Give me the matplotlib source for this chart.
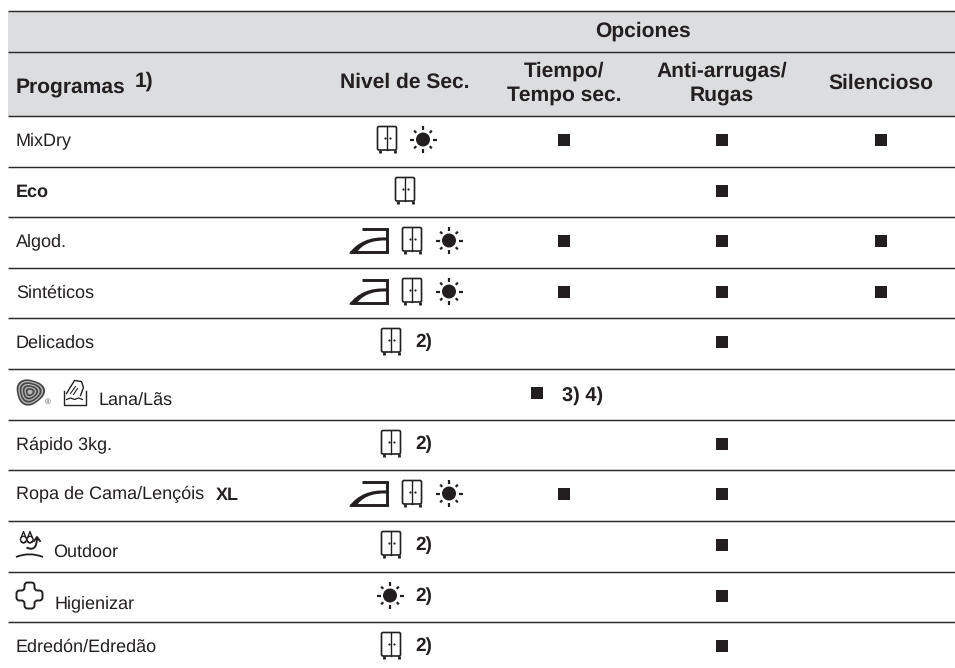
"""programas / opciones table, drawn in pixel coordinates"""
import numpy as np
import matplotlib
matplotlib.use('Agg')
import matplotlib.pyplot as plt
from matplotlib.patches import Rectangle, FancyBboxPatch, Circle, PathPatch, Polygon
from matplotlib.path import Path

plt.rcParams['font.family'] = ['Liberation Sans', 'DejaVu Sans']
plt.rcParams['text.hinting'] = 'no_hinting'
plt.rcParams['text.hinting_factor'] = 1

INK = '#231f20'
GREY = '#dcddde'
LINE = '#2b2b2b'

# table content
programas = ['MixDry', 'Eco', 'Algod.', 'Sintéticos', 'Delicados', 'Lana/Lãs',
             'Rápido 3kg.', 'Ropa de Cama/Lençóis', 'Outdoor', 'Higienizar',
             'Edredón/Edredão']
nivel = ['ws', 'w', 'iws', 'iws', 'w2', '', 'w2', 'iws', 'w2', 's2', 'w2']
tiempo = [1, 0, 1, 1, 0, 0, 0, 1, 0, 0, 0]
arrugas = [1, 1, 1, 1, 1, 0, 1, 1, 1, 1, 1]
silencio = [1, 0, 1, 1, 0, 0, 0, 0, 0, 0, 0]
header_opciones = [('Tiempo/', 'Tempo sec.'), ('Anti-arrugas/', 'Rugas'), ('Silencioso',)]

W, H = 955, 668
RULES = [11, 52, 116, 167, 217, 268, 318, 369, 420, 470, 521, 572, 622]
COL_X = [564, 722, 881]
HEAD = 15.2
BODY = 13.2

fig = plt.figure(figsize=(W / 100, H / 100), dpi=100)
ax = fig.add_axes([0, 0, 1, 1])
ax.set_xlim(0, W)
ax.set_ylim(H, 0)
ax.axis('off')


def wardrobe(x, y):
    ax.add_patch(FancyBboxPatch((x - 9.5, y - 13), 19, 23.5, boxstyle='round,pad=0,rounding_size=1.5',
                                fc='white', ec=INK, lw=1.2))
    ax.plot([x, x], [y - 13, y + 10.5], color=INK, lw=1.0)
    ax.plot([x - 2.5, x + 2.5], [y - 1.5, y - 1.5], ls='', marker='o', ms=1.6, mew=0, color=INK)
    ax.plot([x - 7.5, x - 7.5], [y + 10.5, y + 13.5], color=INK, lw=2.0, solid_capstyle='butt')
    ax.plot([x + 7.5, x + 7.5], [y + 10.5, y + 13.5], color=INK, lw=2.0, solid_capstyle='butt')


def sun(x, y):
    ax.add_patch(Circle((x, y), 7.0, fc=INK, ec='none'))
    for k in range(8):
        a = k * np.pi / 4
        r0, r1 = (9.5, 13.5) if k % 2 == 0 else (9.5, 12.5)
        ax.plot([x + r0 * np.cos(a), x + r1 * np.cos(a)],
                [y + r0 * np.sin(a), y + r1 * np.sin(a)], color=INK, lw=1.6, solid_capstyle='butt')


def iron(x, y):
    # x is the right edge of the iron
    ax.plot([x - 26, x - 1.2, x - 1.2, x - 38], [y - 12, y - 12, y + 11.4, y + 11.4], color=INK, lw=2.1,
            solid_joinstyle='miter', solid_capstyle='butt')
    verts = [(x - 39, y + 12.9), (x - 26, y - 4.5), (x - 1, y - 3), (x - 1, y), (x - 23, y - 1), (x - 32, y + 12.9)]
    codes = [Path.MOVETO, Path.CURVE3, Path.CURVE3, Path.LINETO, Path.CURVE3, Path.CURVE3]
    ax.add_patch(PathPatch(Path(verts, codes), fc=INK, ec='none'))


def mark(x, y):
    ax.add_patch(Rectangle((x - 6, y - 6), 12, 12, fc=INK, ec='none'))


def wool(x, y):
    t = np.linspace(0, 2 * np.pi, 120)
    for r, c in zip([14, 12.2, 10.8, 9.0, 7.6, 5.8, 4.4, 2.6],
                    ['#444444', '#b8b8b8', '#444444', '#b8b8b8', '#444444', '#b8b8b8', '#444444', '#b8b8b8']):
        rr = r * (1 + 0.08 * np.cos(3 * t + 0.6))
        ax.add_patch(Polygon(np.c_[x + rr * np.cos(t), y + 0.92 * rr * np.sin(t)], fc=c, ec='none'))
    ax.text(x + 18, y + 10, '®', fontsize=5.5, color='#555555', ha='center', va='center')


def hand_tub(x, y):
    ax.plot([x - 11, x - 11, x + 11, x + 11], [y - 2, y + 12, y + 12, y - 2], color=INK, lw=1.0)
    ax.plot([x - 8, x - 4, x, x + 4, x + 8], [y + 7, y + 5.5, y + 7, y + 5.5, y + 7], color=INK, lw=0.9)
    ax.plot([x - 8, x, x + 7, x + 9, x + 6], [y + 1, y - 12, y - 11, y - 5, y + 3], color=INK, lw=1.0)
    ax.plot([x - 4, x + 1], [y + 1, y - 6], color=INK, lw=0.8)
    ax.plot([x - 1, x + 3], [y + 2, y - 4], color=INK, lw=0.8)


def outdoor(x, y):
    for dx in (-6, 0.5):
        t = np.linspace(-0.7, 2 * np.pi + 0.7, 40)
        ax.plot(x + dx + 3 * np.sin(t), y - 5 + 3.2 * np.cos(t), color=INK, lw=1.0)
        ax.plot([x + dx - 2.2, x + dx, x + dx + 2.2], [y - 7.2, y - 13, y - 7.2], color=INK, lw=1.0)
    verts = [(x - 3, y + 3), (x + 7.5, y + 8), (x + 7.5, y - 7)]
    ax.add_patch(PathPatch(Path(verts, [Path.MOVETO, Path.CURVE3, Path.CURVE3]), fc='none', ec=INK, lw=1.4))
    ax.plot([x + 4.5, x + 7.5, x + 10.5], [y - 3.5, y - 7.5, y - 3.5], color=INK, lw=1.4)
    verts = [(x - 13.5, y + 12.5), (x, y + 7), (x + 13.5, y + 12.5)]
    ax.add_patch(PathPatch(Path(verts, [Path.MOVETO, Path.CURVE3, Path.CURVE3]), fc='none', ec=INK, lw=1.3))


def cross(x, y):
    a, b, c = 5, 13, 3
    corners = [(-a, -b), (a, -b), (a, -a), (b, -a), (b, a), (a, a), (a, b), (-a, b), (-a, a), (-b, a), (-b, -a), (-a, -a)]
    verts, codes = [], []
    n = len(corners)
    for i, (px, py) in enumerate(corners):
        qx, qy = corners[i - 1]
        rx, ry = corners[(i + 1) % n]
        d0 = np.hypot(qx - px, qy - py)
        d1 = np.hypot(rx - px, ry - py)
        s0 = (px + (qx - px) * c / d0, py + (qy - py) * c / d0)
        s1 = (px + (rx - px) * c / d1, py + (ry - py) * c / d1)
        verts += [s0, (px, py), s1]
        codes += [Path.MOVETO if i == 0 else Path.LINETO, Path.CURVE3, Path.CURVE3]
    verts = [(v[0] + x, v[1] + y) for v in verts] + [(0, 0)]
    codes.append(Path.CLOSEPOLY)
    verts[-1] = verts[0]
    ax.add_patch(PathPatch(Path(verts, codes), fc='white', ec=INK, lw=1.4))


# header band and rules
ax.add_patch(Rectangle((8, 11), W - 8, 116 - 11, fc=GREY, ec='none', zorder=0))
for r in RULES:
    ax.plot([8, W], [r, r], color=LINE, lw=1.05, solid_capstyle='butt', zorder=1)

# header text
head = dict(fontsize=HEAD, fontweight='bold', color=INK, va='baseline')
ax.text(643, 36.5, 'Opciones', ha='center', **head)
ax.text(16, 93, 'Programas', ha='left', **head)
ax.text(134.5, 87, '1)', ha='left', **head)
ax.text(405, 88, 'Nivel de Sec.', ha='center', **head)
for x, lines in zip(COL_X, header_opciones):
    if len(lines) == 1:
        ax.text(x, 89, lines[0], ha='center', **head)
    else:
        ax.text(x, 77, lines[0], ha='center', **head)
        ax.text(x, 100.5, lines[1], ha='center', **head)

# rows
for i, name in enumerate(programas):
    rule = RULES[i + 2]
    y = rule + 23.5
    x = 16
    base = rule + 29.5
    if name == 'Lana/Lãs':
        wool(30, y - 0.5)
        hand_tub(74.5, y)
        x, base = 99, rule + 36
    elif name == 'Outdoor':
        outdoor(29.5, y)
        x, base = 53, rule + 36
    elif name == 'Higienizar':
        cross(29.5, y)
        x, base = 55, rule + 36
    ax.text(x, base, name, fontsize=BODY, color=INK, ha='left', va='baseline',
            fontweight='bold' if name == 'Eco' else 'normal')
    if name.startswith('Ropa'):
        ax.text(216, base, 'XL', fontsize=BODY, fontweight='bold', color=INK, ha='left', va='baseline')

    code = nivel[i]
    if code == 'ws':
        wardrobe(387, y)
        sun(423, y)
    elif code == 'w':
        wardrobe(405, y)
    elif code == 'iws':
        iron(388, y)
        wardrobe(412, y)
        sun(449, y)
    elif code == 'w2':
        wardrobe(391, y)
        ax.text(415, y + 6, '2)', fontsize=14, fontweight='bold', color=INK, ha='left', va='baseline')
    elif code == 's2':
        sun(390, y)
        ax.text(415, y + 6, '2)', fontsize=14, fontweight='bold', color=INK, ha='left', va='baseline')

    for x_c, flag in zip(COL_X, [tiempo[i], arrugas[i], silencio[i]]):
        if flag:
            mark(x_c, y)
    if name == 'Lana/Lãs':
        mark(537, y)
        ax.text(561.5, y + 8, '3) 4)', fontsize=14.2, fontweight='bold', color=INK, ha='left', va='baseline')

fig.savefig('out.png', dpi=100, facecolor='white')
